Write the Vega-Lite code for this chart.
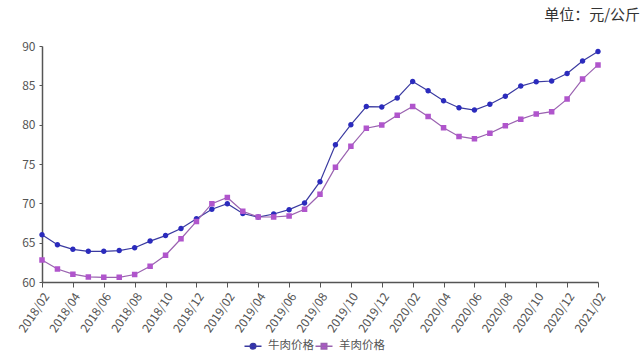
{
  "$schema": "https://vega.github.io/schema/vega-lite/v6.json",
  "width": 556,
  "height": 236,
  "autosize": {"type": "none"},
  "padding": {"left": 42, "top": 46, "right": 42, "bottom": 81},
  "background": "white",
  "title": {
    "text": "单位：元/公斤",
    "anchor": "end",
    "dx": 33,
    "offset": 17,
    "fontSize": 15,
    "fontWeight": "normal",
    "font": "Noto Sans CJK SC",
    "color": "#333333"
  },
  "config": {
    "view": {"stroke": null},
    "font": "Noto Sans CJK SC",
    "legend": {
      "title": null,
      "orient": "none",
      "direction": "horizontal",
      "legendX": 205,
      "legendY": 294,
      "labelFontSize": 11.5,
      "labelColor": "#555555",
      "labelOffset": 9,
      "columnPadding": -2,
      "symbolSize": 100,
      "symbolStrokeWidth": 1.5
    }
  },
  "data": {
    "values": [
      {"month": "2018/02", "牛肉价格": 66.0, "羊肉价格": 62.8},
      {"month": "2018/03", "牛肉价格": 64.75, "羊肉价格": 61.65},
      {"month": "2018/04", "牛肉价格": 64.15, "羊肉价格": 61.0},
      {"month": "2018/05", "牛肉价格": 63.9, "羊肉价格": 60.65},
      {"month": "2018/06", "牛肉价格": 63.9, "羊肉价格": 60.6},
      {"month": "2018/07", "牛肉价格": 64.0, "羊肉价格": 60.6},
      {"month": "2018/08", "牛肉价格": 64.35, "羊肉价格": 60.95},
      {"month": "2018/09", "牛肉价格": 65.2, "羊肉价格": 62.0},
      {"month": "2018/10", "牛肉价格": 65.9, "羊肉价格": 63.4},
      {"month": "2018/11", "牛肉价格": 66.8, "羊肉价格": 65.5},
      {"month": "2018/12", "牛肉价格": 68.05, "羊肉价格": 67.7},
      {"month": "2019/01", "牛肉价格": 69.25, "羊肉价格": 69.95},
      {"month": "2019/02", "牛肉价格": 69.95, "羊肉价格": 70.75},
      {"month": "2019/03", "牛肉价格": 68.7, "羊肉价格": 69.0},
      {"month": "2019/04", "牛肉价格": 68.26, "羊肉价格": 68.26},
      {"month": "2019/05", "牛肉价格": 68.64, "羊肉价格": 68.26},
      {"month": "2019/06", "牛肉价格": 69.2, "羊肉价格": 68.4},
      {"month": "2019/07", "牛肉价格": 70.05, "羊肉价格": 69.25},
      {"month": "2019/08", "牛肉价格": 72.75, "羊肉价格": 71.15},
      {"month": "2019/09", "牛肉价格": 77.45, "羊肉价格": 74.6},
      {"month": "2019/10", "牛肉价格": 80.0, "羊肉价格": 77.25},
      {"month": "2019/11", "牛肉价格": 82.3, "羊肉价格": 79.55},
      {"month": "2019/12", "牛肉价格": 82.25, "羊肉价格": 79.95},
      {"month": "2020/01", "牛肉价格": 83.4, "羊肉价格": 81.2},
      {"month": "2020/02", "牛肉价格": 85.5, "羊肉价格": 82.3},
      {"month": "2020/03", "牛肉价格": 84.3, "羊肉价格": 81.05},
      {"month": "2020/04", "牛肉价格": 83.05, "羊肉价格": 79.6},
      {"month": "2020/05", "牛肉价格": 82.16, "羊肉价格": 78.5},
      {"month": "2020/06", "牛肉价格": 81.86, "羊肉价格": 78.2},
      {"month": "2020/07", "牛肉价格": 82.6, "羊肉价格": 78.9},
      {"month": "2020/08", "牛肉价格": 83.6, "羊肉价格": 79.85},
      {"month": "2020/09", "牛肉价格": 84.9, "羊肉价格": 80.7},
      {"month": "2020/10", "牛肉价格": 85.45, "羊肉价格": 81.35},
      {"month": "2020/11", "牛肉价格": 85.55, "羊肉价格": 81.65},
      {"month": "2020/12", "牛肉价格": 86.5, "羊肉价格": 83.25},
      {"month": "2021/01", "牛肉价格": 88.1, "羊肉价格": 85.8},
      {"month": "2021/02", "牛肉价格": 89.3, "羊肉价格": 87.6}
    ]
  },
  "transform": [
    {"fold": ["牛肉价格", "羊肉价格"], "as": ["series", "price"]}
  ],
  "encoding": {
    "x": {
      "field": "month",
      "type": "ordinal",
      "sort": null,
      "scale": {"type": "point", "padding": 0},
      "axis": {
        "title": null,
        "values": ["2018/02","2018/04","2018/06","2018/08","2018/10","2018/12","2019/02","2019/04","2019/06","2019/08","2019/10","2019/12","2020/02","2020/04","2020/06","2020/08","2020/10","2020/12","2021/02"],
        "labelAngle": -56,
        "labelAlign": "right",
        "labelBaseline": "top",
        "labelFontSize": 12,
        "labelColor": "#555555",
        "labelPadding": 4,
        "domainColor": "#555555",
        "domainWidth": 1.5,
        "tickColor": "#555555",
        "tickSize": 5,
        "grid": false
      }
    },
    "y": {
      "field": "price",
      "type": "quantitative",
      "scale": {"domain": [60, 90], "nice": false, "zero": false},
      "axis": {
        "title": null,
        "values": [60, 65, 70, 75, 80, 85, 90],
        "grid": false,
        "labelFontSize": 12,
        "labelColor": "#555555",
        "labelPadding": 4,
        "domainColor": "#555555",
        "domainWidth": 1.5,
        "tickColor": "#555555",
        "tickSize": 3
      }
    }
  },
  "layer": [
    {
      "mark": {"type": "line", "strokeWidth": 1.2},
      "encoding": {
        "stroke": {
          "field": "series",
          "type": "nominal",
          "scale": {"domain": ["牛肉价格", "羊肉价格"], "range": ["#3a3aa0", "#9a62b0"]}
        }
      }
    },
    {
      "mark": {"type": "point", "filled": true, "size": 100, "opacity": 1},
      "encoding": {
        "fill": {
          "field": "series",
          "type": "nominal",
          "scale": {"domain": ["牛肉价格", "羊肉价格"], "range": ["#2b2bbd", "#b055cc"]}
        },
        "shape": {
          "field": "series",
          "type": "nominal",
          "scale": {
            "domain": ["牛肉价格", "羊肉价格"],
            "range": [
              "M-1.7,0H1.7M-0.55,0A0.55,0.55 0 1,1 0.55,0A0.55,0.55 0 1,1 -0.55,0Z",
              "M-1.7,0H1.7M-0.55,-0.55H0.55V0.55H-0.55Z"
            ]
          }
        }
      }
    }
  ]
}
